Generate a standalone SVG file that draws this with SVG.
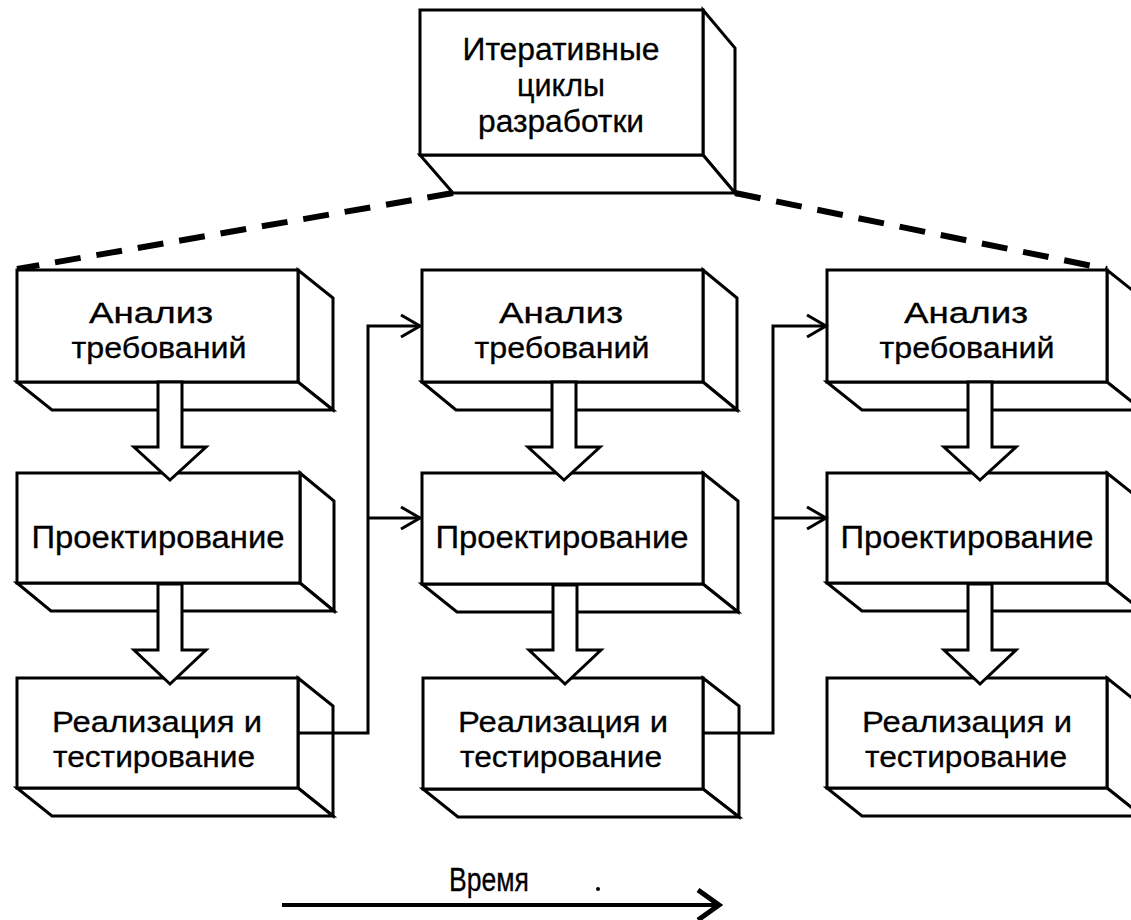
<svg xmlns="http://www.w3.org/2000/svg" width="1131" height="920" viewBox="0 0 1131 920">
  <style>
    .face { fill: #ffffff; stroke: #000; stroke-width: 3; stroke-linejoin: miter; }
    .lbl { font-family: "Liberation Sans", Arial, sans-serif; font-size: 30px; fill: #000; stroke: #000; stroke-width: 0.3; text-anchor: middle; }
    .big { font-size: 31px; }
    .axis { font-size: 34px; }
    .flow { fill: #ffffff; stroke: #000; stroke-width: 3; stroke-linejoin: miter; }
    .link { fill: none; stroke: #000; stroke-width: 3; }
    .dash { fill: none; stroke: #000; stroke-width: 6; stroke-dasharray: 26 16; }
  </style>
  <defs>
    <marker id="chev" viewBox="0 0 24 24" refX="21" refY="12" markerWidth="24" markerHeight="24" markerUnits="userSpaceOnUse" orient="auto">
      <path d="M2,1 L21,12 L2,23" fill="none" stroke="#000" stroke-width="3"/>
    </marker>
    <marker id="chevBig" viewBox="0 0 30 34" refX="26" refY="17" markerWidth="30" markerHeight="34" markerUnits="userSpaceOnUse" orient="auto">
      <path d="M4,2 L25,17 L4,32" fill="none" stroke="#000" stroke-width="5"/>
    </marker>
  </defs>

  <rect width="1131" height="920" fill="#ffffff"/>

  <!-- dashed lines from the top block to the outer cycle columns -->
  <g id="connectors-dashed">
    <line class="dash" x1="453" y1="193" x2="17" y2="269"/>
    <line class="dash" x1="735" y1="193" x2="1107" y2="269"/>
  </g>

  <!-- top block -->
  <g id="node-cycles">
    <polygon class="face" points="703,10 735,48 735,193 703,155"/>
    <polygon class="face" points="420,155 453,193 735,193 703,155"/>
    <rect class="face" x="420" y="10" width="283" height="145"/>
    <text class="lbl big" x="561" y="60" textLength="197" lengthAdjust="spacingAndGlyphs">Итеративные</text>
    <text class="lbl big" x="561" y="96" textLength="88" lengthAdjust="spacingAndGlyphs">циклы</text>
    <text class="lbl big" x="561" y="132" textLength="166" lengthAdjust="spacingAndGlyphs">разработки</text>
  </g>

  <!-- column 1 -->
  <g id="node-c1-analysis">
    <polygon class="face" points="298,270 333,298 333,410 298,382"/>
    <polygon class="face" points="17,382 52,410 333,410 298,382"/>
    <rect class="face" x="17" y="270" width="281" height="112"/>
    <text class="lbl" x="151" y="323" textLength="124" lengthAdjust="spacingAndGlyphs">Анализ</text>
    <text class="lbl" x="159" y="358" textLength="175" lengthAdjust="spacingAndGlyphs">требований</text>
  </g>
  <g id="node-c1-design">
    <polygon class="face" points="300,473 334,501 334,611 300,583"/>
    <polygon class="face" points="17,583 51,611 334,611 300,583"/>
    <rect class="face" x="17" y="473" width="283" height="110"/>
    <text class="lbl big" x="158" y="548" textLength="253" lengthAdjust="spacingAndGlyphs">Проектирование</text>
  </g>
  <g id="node-c1-impl">
    <polygon class="face" points="298,678 333,706 333,816 298,788"/>
    <polygon class="face" points="17,788 52,816 333,816 298,788"/>
    <rect class="face" x="17" y="678" width="281" height="110"/>
    <text class="lbl" x="157" y="732" textLength="210" lengthAdjust="spacingAndGlyphs">Реализация и</text>
    <text class="lbl" x="154" y="767" textLength="202" lengthAdjust="spacingAndGlyphs">тестирование</text>
  </g>

  <!-- column 2 -->
  <g id="node-c2-analysis">
    <polygon class="face" points="703,270 737,298 737,410 703,382"/>
    <polygon class="face" points="422,382 456,410 737,410 703,382"/>
    <rect class="face" x="422" y="270" width="281" height="112"/>
    <text class="lbl" x="561" y="323" textLength="124" lengthAdjust="spacingAndGlyphs">Анализ</text>
    <text class="lbl" x="562" y="358" textLength="175" lengthAdjust="spacingAndGlyphs">требований</text>
  </g>
  <g id="node-c2-design">
    <polygon class="face" points="703,473 738,501 738,612 703,584"/>
    <polygon class="face" points="422,584 457,612 738,612 703,584"/>
    <rect class="face" x="422" y="473" width="281" height="111"/>
    <text class="lbl big" x="562" y="548" textLength="253" lengthAdjust="spacingAndGlyphs">Проектирование</text>
  </g>
  <g id="node-c2-impl">
    <polygon class="face" points="703,678 739,706 739,817 703,789"/>
    <polygon class="face" points="423,789 458,817 739,817 703,789"/>
    <rect class="face" x="423" y="678" width="280" height="111"/>
    <text class="lbl" x="563" y="732" textLength="210" lengthAdjust="spacingAndGlyphs">Реализация и</text>
    <text class="lbl" x="561" y="767" textLength="202" lengthAdjust="spacingAndGlyphs">тестирование</text>
  </g>

  <!-- column 3 -->
  <g id="node-c3-analysis">
    <polygon class="face" points="1107,270 1142,298 1142,410 1107,382"/>
    <polygon class="face" points="827,382 862,410 1142,410 1107,382"/>
    <rect class="face" x="827" y="270" width="280" height="112"/>
    <text class="lbl" x="966" y="323" textLength="124" lengthAdjust="spacingAndGlyphs">Анализ</text>
    <text class="lbl" x="967" y="358" textLength="175" lengthAdjust="spacingAndGlyphs">требований</text>
  </g>
  <g id="node-c3-design">
    <polygon class="face" points="1107,473 1142,501 1142,611 1107,583"/>
    <polygon class="face" points="827,583 862,611 1142,611 1107,583"/>
    <rect class="face" x="827" y="473" width="280" height="110"/>
    <text class="lbl big" x="967" y="548" textLength="253" lengthAdjust="spacingAndGlyphs">Проектирование</text>
  </g>
  <g id="node-c3-impl">
    <polygon class="face" points="1107,678 1142,706 1142,816 1107,788"/>
    <polygon class="face" points="827,788 862,816 1142,816 1107,788"/>
    <rect class="face" x="827" y="678" width="280" height="110"/>
    <text class="lbl" x="967" y="732" textLength="210" lengthAdjust="spacingAndGlyphs">Реализация и</text>
    <text class="lbl" x="966" y="767" textLength="202" lengthAdjust="spacingAndGlyphs">тестирование</text>
  </g>

  <!-- hollow block arrows between stages, and the links between cycles -->
  <g id="connectors">
    <polygon class="flow" points="158,382 158,447 134,447 170,480 206,447 182,447 182,382"/>
    <polygon class="flow" points="158,584 158,650 134,650 170,684 206,650 182,650 182,584"/>
    <polygon class="flow" points="552,382 552,447 528,447 564,480 600,447 576,447 576,382"/>
    <polygon class="flow" points="553,585 553,650 529,650 565,684 601,650 577,650 577,585"/>
    <polygon class="flow" points="968,382 968,447 944,447 980,480 1016,447 992,447 992,382"/>
    <polygon class="flow" points="968,584 968,650 944,650 980,684 1016,650 992,650 992,584"/>

    <polyline class="link" points="298,733 368,733 368,326 420,326" marker-end="url(#chev)"/>
    <line class="link" x1="368" y1="518" x2="420" y2="518" marker-end="url(#chev)"/>
    <polyline class="link" points="703,733 773,733 773,326 826,326" marker-end="url(#chev)"/>
    <line class="link" x1="773" y1="518" x2="826" y2="518" marker-end="url(#chev)"/>
  </g>

  <!-- time axis -->
  <g id="time-axis">
    <text class="lbl axis" x="489" y="891" textLength="80" lengthAdjust="spacingAndGlyphs">Время</text>
    <line x1="282" y1="905" x2="720" y2="905" stroke="#000" stroke-width="4" marker-end="url(#chevBig)"/>
    <circle cx="598" cy="889" r="2" fill="#000"/>
  </g>
</svg>
